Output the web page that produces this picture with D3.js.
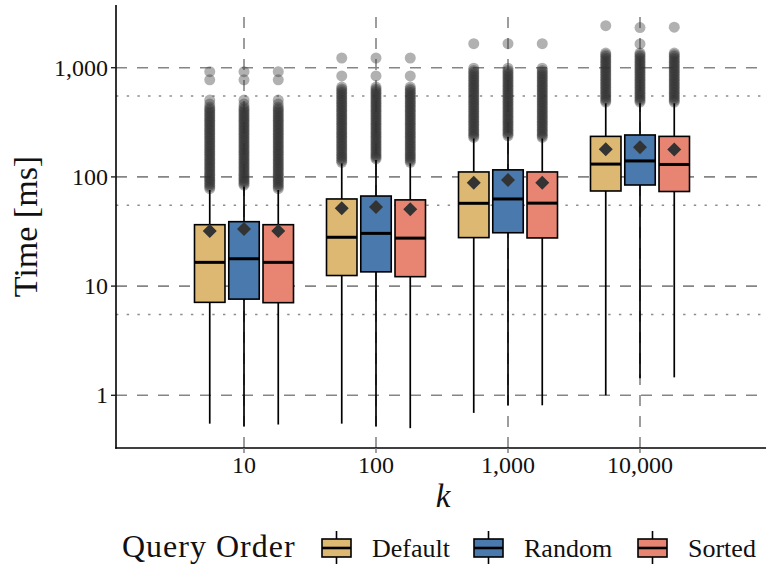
<!DOCTYPE html>
<html>
<head>
<meta charset="utf-8">
<script src="https://cdn.jsdelivr.net/npm/d3@7"></script>
<style>
  html, body { margin: 0; padding: 0; background: #fff; }
  svg { display: block; font-family: "Liberation Serif", "DejaVu Serif", serif; }
</style>
</head>
<body>
<svg id="chart" width="766" height="566" font-family="Liberation Serif, DejaVu Serif, serif"></svg>
<script>
// ---------- data ----------
const kValues = [10, 100, 1000, 10000];
const kLabels = ["10", "100", "1,000", "10,000"];
const orders = ["Default", "Random", "Sorted"];
const orderColors = ["#DDB872", "#4A79AD", "#E88572"];

const yTicks = [1, 10, 100, 1000];
const yTickLabels = ["1", "10", "100", "1,000"];
const yMinor = [5.5, 55, 550];

// one value per (k, order), k-major: [10-D, 10-R, 10-S, 100-D, ...]
const whiskerLow  = [0.55, 0.52, 0.54,  0.55, 0.52, 0.50,  0.69, 0.81, 0.81,  1.00, 1.43, 1.46];
const q1          = [7.1, 7.6, 7.05,    12.5, 13.5, 12.2,  27.8, 30.8, 27.6,  74.3, 84.3, 73.5];
const median      = [16.5, 17.8, 16.5,  28.0, 30.4, 27.5,  57.3, 62.8, 57.5,  131, 140, 130];
const q3          = [36.5, 38.9, 36.5,  62.8, 66.8, 61.6,  111, 116, 111,     235, 242, 235];
const whiskerHigh = [75.9, 81.3, 75.9,  133, 143, 133,     225, 233, 225,     472, 472, 472];
const meanVal     = [32.0, 33.3, 32.0,  51.6, 53.0, 50.5,  88.5, 93.7, 88.5,  179, 187, 178];

// outlying points above the whiskers, per k (each box shows those above its own whisker)
const outliersK10 = [78, 81, 84, 87, 90, 93, 96, 99, 103, 106, 110, 114, 118, 122, 126, 131, 135, 140, 145, 150,
  155, 161, 166, 172, 178, 184, 191, 197, 204, 212, 219, 227, 235, 243, 251, 260, 269, 278, 288, 298,
  309, 320, 331, 342, 354, 367, 380, 393, 407, 421, 436, 465, 505, 775, 920];
const outliersK100 = [136, 141, 146, 151, 156, 161, 167, 173, 179, 185, 192, 198, 205, 213, 220, 228, 236, 244,
  252, 261, 270, 280, 290, 300, 310, 321, 332, 344, 356, 368, 381, 395, 408, 423, 438, 453, 469, 485,
  502, 520, 538, 557, 576, 596, 617, 639, 665, 840, 1227];
const outliersK1000 = [230, 238, 246, 255, 264, 273, 283, 293, 303, 313, 324, 336, 347, 360, 372, 385, 399, 413,
  427, 442, 458, 474, 490, 507, 525, 544, 563, 582, 603, 624, 646, 668, 692, 716, 741, 767, 794, 821,
  850, 880, 911, 943, 990, 1660];
const outliersK10000 = [485, 502, 520, 538, 557, 576, 596, 617, 639, 661, 684, 708, 733, 759, 785, 813, 841, 871,
  901, 933, 965, 999, 1034, 1070, 1108, 1147, 1187, 1228, 1271, 1316, 1362];
// extreme points for the k = 10,000 boxes (Default, Random, Sorted)
const extremesK10000 = [[2425], [1650, 2330], [2350]];
const outliers = [outliersK10, outliersK100, outliersK1000, outliersK10000];

// ---------- layout ----------
const svg = d3.select("#chart");
const panel = { left: 116, right: 766, top: 5, bottom: 448 };

const x = d3.scaleLog().domain([10, 10000]).range([244, 640]);
const y = d3.scaleLog().domain([1, 1000]).range([395.3, 67.7]);
const dodge = d3.scaleBand().domain(orders).range([-49.5, 49.5]).paddingInner(0.11);
const boxW = dodge.bandwidth();
const color = d3.scaleOrdinal().domain(orders).range(orderColors);

const grid = svg.append("g");
grid.selectAll("line.minor").data(yMinor).join("line")
  .attr("x1", panel.left).attr("x2", panel.right)
  .attr("y1", d => y(d)).attr("y2", d => y(d))
  .attr("stroke", "#8c8c8c").attr("stroke-width", 1.6)
  .attr("stroke-dasharray", "2.4,8.3");
grid.selectAll("line.major").data(yTicks).join("line")
  .attr("x1", panel.left).attr("x2", panel.right)
  .attr("y1", d => y(d)).attr("y2", d => y(d))
  .attr("stroke", "#858585").attr("stroke-width", 1.6)
  .attr("stroke-dasharray", "11,10");
grid.selectAll("line.v").data(kValues).join("line")
  .attr("x1", d => x(d)).attr("x2", d => x(d))
  .attr("y1", panel.bottom).attr("y2", panel.top + 5)
  .attr("stroke", "#858585").attr("stroke-width", 1.6)
  .attr("stroke-dasharray", "11,10");

// ---------- boxes ----------
const boxes = [];
kValues.forEach((k, ki) => {
  orders.forEach((o, oi) => {
    const i = ki * 3 + oi;
    let out = outliers[ki].filter(v => v > whiskerHigh[i]);
    if (ki === 3) out = out.concat(extremesK10000[oi]);
    boxes.push({
      k, o, ki, oi,
      lo: whiskerLow[i], q1: q1[i], med: median[i], q3: q3[i], hi: whiskerHigh[i], mean: meanVal[i],
      out
    });
  });
});
const cx = b => x(b.k) + dodge(b.o) + boxW / 2;

const gB = svg.append("g");
boxes.forEach(b => {
  gB.append("g").selectAll("circle").data(b.out).join("circle")
    .attr("cx", cx(b)).attr("cy", d => y(d)).attr("r", 5.5)
    .attr("fill", "#333").attr("fill-opacity", 0.38);
});
gB.selectAll("line.wl").data(boxes).join("line")
  .attr("x1", cx).attr("x2", cx)
  .attr("y1", b => y(b.lo)).attr("y2", b => y(b.q1))
  .attr("stroke", "#000").attr("stroke-width", 1.7);
gB.selectAll("line.wh").data(boxes).join("line")
  .attr("x1", cx).attr("x2", cx)
  .attr("y1", b => y(b.q3)).attr("y2", b => y(b.hi))
  .attr("stroke", "#000").attr("stroke-width", 1.7);
gB.selectAll("rect").data(boxes).join("rect")
  .attr("x", b => cx(b) - boxW / 2).attr("width", boxW)
  .attr("y", b => y(b.q3)).attr("height", b => y(b.q1) - y(b.q3))
  .attr("fill", b => color(b.o)).attr("stroke", "#000").attr("stroke-width", 1.6);
gB.selectAll("line.med").data(boxes).join("line")
  .attr("x1", b => cx(b) - boxW / 2).attr("x2", b => cx(b) + boxW / 2)
  .attr("y1", b => y(b.med)).attr("y2", b => y(b.med))
  .attr("stroke", "#000").attr("stroke-width", 3);
const dm = 7;
gB.selectAll("path.mean").data(boxes).join("path")
  .attr("d", b => { const px = cx(b), py = y(b.mean);
    return `M${px},${py - dm}L${px + dm},${py}L${px},${py + dm}L${px - dm},${py}Z`; })
  .attr("fill", "#333");

// ---------- axes ----------
const ax = svg.append("g");
ax.append("line").attr("x1", panel.left).attr("x2", panel.left)
  .attr("y1", panel.top).attr("y2", panel.bottom + 0.8)
  .attr("stroke", "#000").attr("stroke-width", 1.6);
ax.append("line").attr("x1", panel.left - 0.8).attr("x2", panel.right)
  .attr("y1", panel.bottom).attr("y2", panel.bottom)
  .attr("stroke", "#000").attr("stroke-width", 1.6);

ax.selectAll("line.yt").data(yTicks).join("line")
  .attr("x1", panel.left - 5).attr("x2", panel.left)
  .attr("y1", d => y(d)).attr("y2", d => y(d))
  .attr("stroke", "#222").attr("stroke-width", 1.4);
ax.selectAll("text.yl").data(yTicks).join("text")
  .attr("x", panel.left - 8).attr("y", d => y(d)).attr("dy", "0.33em")
  .attr("text-anchor", "end").attr("font-size", 24)
  .text((d, i) => yTickLabels[i]);

ax.selectAll("line.xt").data(kValues).join("line")
  .attr("x1", d => x(d)).attr("x2", d => x(d))
  .attr("y1", panel.bottom).attr("y2", panel.bottom + 5)
  .attr("stroke", "#777").attr("stroke-width", 1.4);
ax.selectAll("text.xl").data(kValues).join("text")
  .attr("x", d => x(d)).attr("y", 473)
  .attr("text-anchor", "middle").attr("font-size", 24)
  .text((d, i) => kLabels[i]);

svg.append("text").attr("x", 443).attr("y", 507)
  .attr("text-anchor", "middle").attr("font-size", 33).attr("font-style", "italic")
  .text("k");
svg.append("text")
  .attr("transform", `translate(37, ${(panel.top + panel.bottom) / 2}) rotate(-90)`)
  .attr("text-anchor", "middle").attr("font-size", 34)
  .text("Time [ms]");

// ---------- legend ----------
const lg = svg.append("g");
lg.append("text").attr("x", 122).attr("y", 557).attr("font-size", 32)
  .attr("letter-spacing", 1).text("Query Order");
const keyX = [322, 474, 638];
orders.forEach((o, i) => {
  const g = lg.append("g").attr("transform", `translate(${keyX[i]}, 0)`);
  g.append("line").attr("x1", 14.5).attr("x2", 14.5).attr("y1", 531).attr("y2", 564)
    .attr("stroke", "#000").attr("stroke-width", 1.6);
  g.append("rect").attr("x", 0).attr("y", 539).attr("width", 29).attr("height", 18)
    .attr("fill", color(o)).attr("stroke", "#000").attr("stroke-width", 1.6);
  g.append("line").attr("x1", 0).attr("x2", 29).attr("y1", 548).attr("y2", 548)
    .attr("stroke", "#000").attr("stroke-width", 2.6);
  g.append("text").attr("x", 50).attr("y", 557).attr("font-size", 26).text(o);
});

svg.selectAll("text")
  .style("font-family", "'Liberation Serif', 'DejaVu Serif', serif")
  .attr("fill", "#111");
</script>
</body>
</html>
